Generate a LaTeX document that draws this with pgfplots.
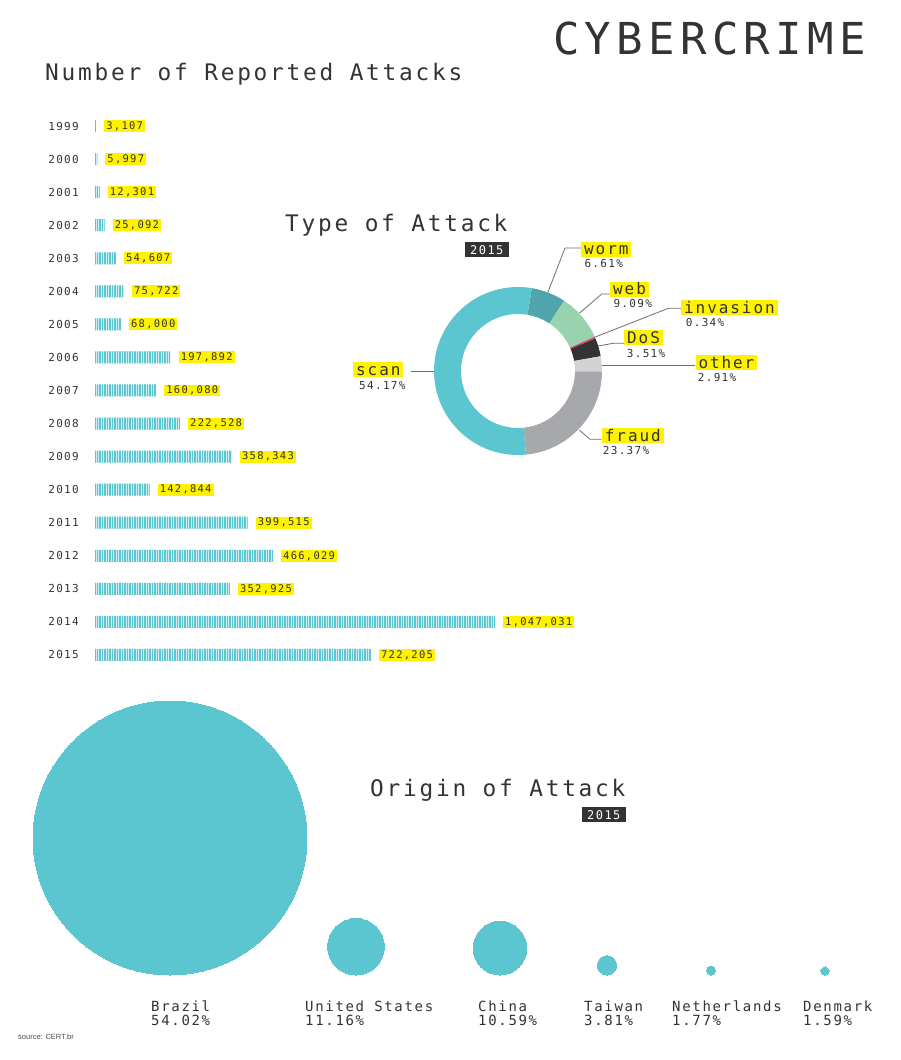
\documentclass[border=0pt]{standalone}
\usepackage{pgfplots}
\pgfplotsset{compat=1.18}
\usepackage{pgfplotstable}
\usepackage{fontspec}
\usetikzlibrary{patterns.meta}
\setmainfont{DejaVu Sans Mono}
\newfontfamily\tf[LetterSpace=12]{DejaVu Sans Mono}
\newfontfamily\srcf{Liberation Sans}
\newcommand\fs[1]{\fontsize{#1}{#1}\selectfont}
\definecolor{cyanc}{HTML}{5BC5D0}
\definecolor{wormc}{HTML}{4FA5AB}
\definecolor{webc}{HTML}{97D3AE}
\definecolor{invc}{HTML}{E8365D}
\definecolor{dosc}{HTML}{333333}
\definecolor{otherc}{HTML}{D3D3D5}
\definecolor{fraudc}{HTML}{A7A8AC}
\definecolor{yel}{HTML}{FFF200}
\definecolor{txt}{HTML}{333333}
\definecolor{leadc}{HTML}{6E6E6E}

\pgfplotstableread{
year val lab
1999 3107 3,107
2000 5997 5,997
2001 12301 12,301
2002 25092 25,092
2003 54607 54,607
2004 75722 75,722
2005 68000 68,000
2006 197892 197,892
2007 160080 160,080
2008 222528 222,528
2009 358343 358,343
2010 142844 142,844
2011 399515 399,515
2012 466029 466,029
2013 352925 352,925
2014 1047031 1,047,031
2015 722205 722,205
}\bardata

\pgfplotstableread{
x p
170 54.02
356 11.16
500 10.59
607 3.81
711 1.77
825 1.59
}\origin

\tikzset{
 ylab/.style={fill=yel, text=txt, anchor=west, inner xsep=3pt, inner ysep=0pt, minimum height=15pt, text height=11.5pt, text depth=0pt, font=\tf\fs{16}},
 pct/.style={anchor=base west, inner sep=0pt, text=txt, font=\tf\fs{11}},
 leader/.style={draw=leadc, line width=0.8pt},
 yrbox/.style={fill=txt, text=white, inner sep=0pt, minimum width=44pt, minimum height=15pt, text height=10pt, text depth=0pt, font=\tf\fs{12}},
 ttl/.style={anchor=base west, inner sep=0pt, text=txt, font=\tf\fs{22.8}},
 cty/.style={anchor=base west, inner sep=0pt, text=txt, font=\tf\fs{14}},
}

\begin{document}
\begin{tikzpicture}
\begin{axis}[at={(0pt,0pt)}, anchor=south west, scale only axis,
  width=900pt, height=1060pt, xmin=0, xmax=900, ymin=0, ymax=1060,
  y dir=reverse, hide axis, clip=false]
  % titles
  \node[anchor=base west, inner sep=0pt, text=txt, font=\tf\fs{44}] at (axis cs:553,55) {CYBERCRIME};
  \node[ttl] at (axis cs:45,80.7) {Number of Reported Attacks};
  \node[ttl] at (axis cs:285,231.7) {Type of Attack};
  \node[yrbox] at (axis cs:486.8,249.8) {2015};
  \node[ttl] at (axis cs:370,796.7) {Origin of Attack};
  \node[yrbox] at (axis cs:603.8,814.8) {2015};
  % donut centre
  \coordinate (dc) at (axis cs:518,371);
  % leader lines
  \draw[leader] (axis cs:548,292) -- (axis cs:565,248) -- (axis cs:581,248);
  \draw[leader] (axis cs:579.3,313.3) -- (axis cs:601.7,294) -- (axis cs:610,294);
  \draw[leader] (axis cs:594,337.5) -- (axis cs:668.3,308.3) -- (axis cs:681,308.3);
  \draw[leader] (axis cs:598,346) -- (axis cs:613.3,343.3) -- (axis cs:624,343.3);
  \draw[leader] (axis cs:600,365) -- (axis cs:695,365);
  \draw[leader] (axis cs:579.3,430) -- (axis cs:590,439.3) -- (axis cs:601.7,439.3);
  \draw[leader] (axis cs:411,371) -- (axis cs:436,371);
  % donut labels
  \node[ylab] at (axis cs:581,249.2) {worm};
  \node[pct] at (axis cs:584.3,267.3) {6.61\%};
  \node[ylab] at (axis cs:610,289.2) {web};
  \node[pct] at (axis cs:613.3,307.7) {9.09\%};
  \node[ylab] at (axis cs:681,307.5) {invasion};
  \node[pct] at (axis cs:685.7,326.7) {0.34\%};
  \node[ylab] at (axis cs:624,337.5) {DoS};
  \node[pct] at (axis cs:626.7,357.3) {3.51\%};
  \node[ylab] at (axis cs:695.3,362.8) {other};
  \node[pct] at (axis cs:697.7,381.7) {2.91\%};
  \node[ylab] at (axis cs:601.7,435.3) {fraud};
  \node[pct] at (axis cs:602.7,454) {23.37\%};
  \node[ylab] at (axis cs:353,369.5) {scan};
  \node[pct] at (axis cs:359,389) {54.17\%};
  % origin bubbles
  \addplot[scatter, only marks, mark=*,
    scatter/use mapped color={draw=cyanc, fill=cyanc},
    mark options={line width=0pt, draw=cyanc, fill=cyanc},
    visualization depends on={\thisrow{p}*2.536 \as \rad},
    scatter/@pre marker code/.append style={/tikz/mark size=\rad}]
    table[x=x, y expr={975-\thisrow{p}*2.536}] {\origin};
  \node[cty] at (axis cs:151,1011) {Brazil};
  \node[cty] at (axis cs:151,1025) {54.02\%};
  \node[cty] at (axis cs:305,1011) {United States};
  \node[cty] at (axis cs:305,1025) {11.16\%};
  \node[cty] at (axis cs:478,1011) {China};
  \node[cty] at (axis cs:478,1025) {10.59\%};
  \node[cty] at (axis cs:584,1011) {Taiwan};
  \node[cty] at (axis cs:584,1025) {3.81\%};
  \node[cty] at (axis cs:672,1011) {Netherlands};
  \node[cty] at (axis cs:672,1025) {1.77\%};
  \node[cty] at (axis cs:803,1011) {Denmark};
  \node[cty] at (axis cs:803,1025) {1.59\%};
  \node[anchor=west, inner sep=0pt, text=black!70, font=\srcf\fs{7.5}] at (axis cs:18,1037) {source: CERT.br};
\end{axis}

\begin{axis}[at={(95pt,388.5pt)}, anchor=south west, scale only axis,
  width=400pt, height=562pt, xmin=0, xmax=1047031,
  ymin=1998.5, ymax=2015.5, y dir=reverse,
  axis line style={draw=none}, major tick length=0pt,
  xtick=\empty, ytick={1999,2000,...,2015},
  yticklabels={1999,2000,2001,2002,2003,2004,2005,2006,2007,2008,2009,2010,2011,2012,2013,2014,2015},
  yticklabel style={font=\tf\fs{11}, text=txt, inner sep=0pt, anchor=east, xshift=-16pt},
  clip=false, xbar, bar width=12pt,
  point meta=explicit symbolic,
  nodes near coords={\pgfplotspointmeta},
  nodes near coords style={anchor=west, xshift=8pt, fill=yel, text=txt,
    font=\tf\fs{10.5}, inner xsep=2pt, inner ysep=1.2pt, text height=8pt, text depth=1.5pt}]
  \addplot[draw=none, fill=cyanc!30,
    postaction={pattern={Lines[angle=90,distance=2.5pt,line width=1.1pt]}, pattern color=cyanc}]
    table[x=val, y=year, meta=lab] {\bardata};
\end{axis}

\begin{scope}[shift={(dc)}]
\def\curang{80.5}
\foreach \v/\c in {6.61/wormc,9.09/webc,0.34/invc,3.51/dosc,2.91/otherc,23.37/fraudc,54.17/cyanc}{%
  \pgfmathsetmacro\endang{\curang-\v*3.6}%
  \fill[\c] (\curang:84pt) arc[start angle=\curang, end angle=\endang, radius=84pt] -- (\endang:57pt) arc[start angle=\endang, end angle=\curang, radius=57pt] -- cycle;
  \xdef\curang{\endang}%
}
\end{scope}
\pgfresetboundingbox
\useasboundingbox (0pt,0pt) rectangle (900pt,1060pt);
\end{tikzpicture}
\end{document}
